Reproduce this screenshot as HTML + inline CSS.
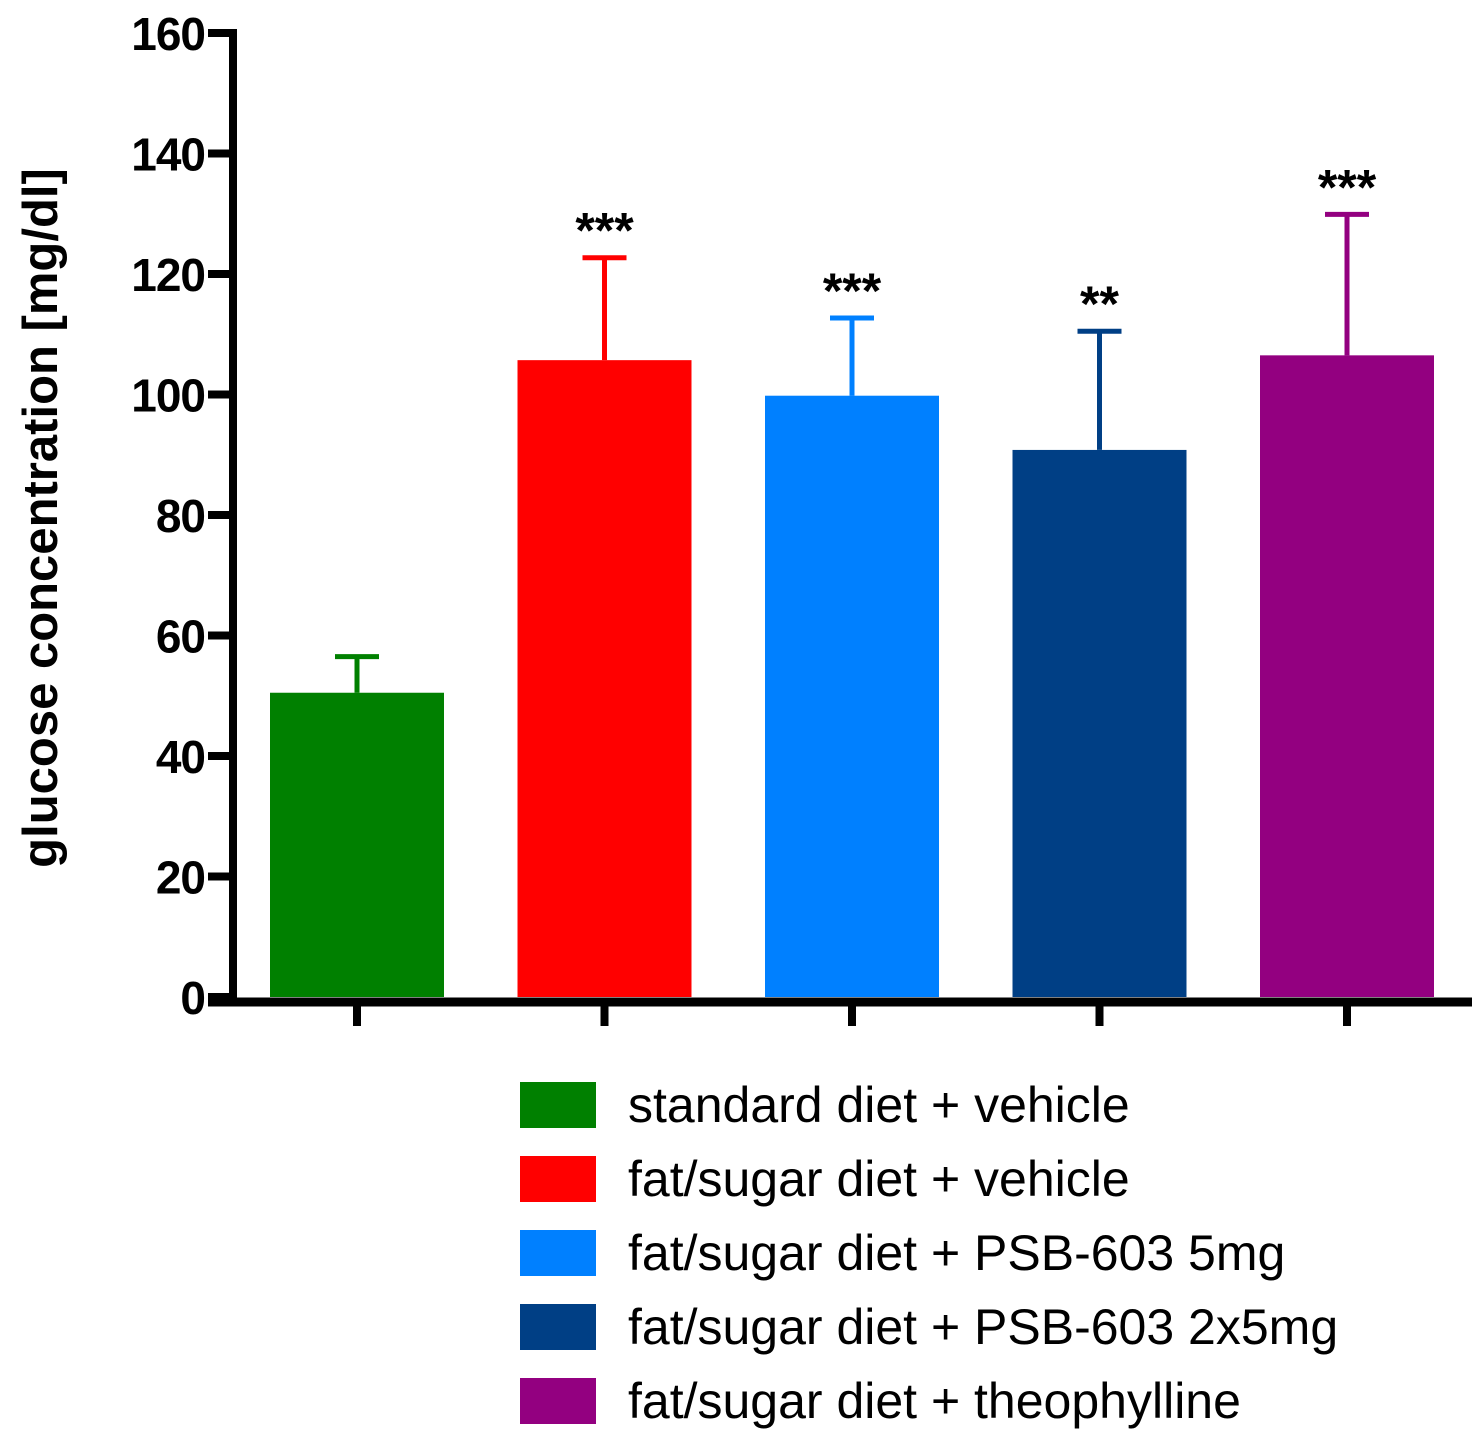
<!DOCTYPE html>
<html><head><meta charset="utf-8"><style>
body{margin:0;background:#fff;}
svg{display:block;font-family:"Liberation Sans",Arial,sans-serif;}
</style></head><body>
<svg id="chart" width="1484" height="1444" viewBox="0 0 1484 1444" xmlns="http://www.w3.org/2000/svg">
<text transform="translate(57,518) rotate(-90)" text-anchor="middle" font-size="49" font-weight="bold">glucose concentration [mg/dl]</text>
<g id="plot"></g>
<g id="legend"></g>
</svg>
<script>
const categories=["standard diet + vehicle","fat/sugar diet + vehicle","fat/sugar diet + PSB-603 5mg","fat/sugar diet + PSB-603 2x5mg","fat/sugar diet + theophylline"];
const means=[50.5,105.7,99.8,90.8,106.5];
const errors=[6.0,17.0,12.9,19.7,23.4];
const stars=["","***","***","**","***"];
const colors=["#008000","#ff0000","#0080ff","#003f85","#930080"];
const yTicks=[0,20,40,60,80,100,120,140,160];
const NS="http://www.w3.org/2000/svg";
const plot=document.getElementById('plot'),legend=document.getElementById('legend');
const y0=997,y160=33;
function y(v){return y0-(v/160)*(y0-y160);}
function xc(i){return 357+i*247.5;}
function mk(tag,attrs,parent){const e=document.createElementNS(NS,tag);for(const k in attrs)e.setAttribute(k,attrs[k]);parent.appendChild(e);return e;}
categories.forEach((c,i)=>{
  const b=mk('rect',{x:xc(i)-87,y:y(means[i]),width:174,height:y0-y(means[i]),fill:colors[i]},plot);
  
  
  const top=y(means[i]+errors[i]);
  const eb=mk('path',{d:`M${xc(i)},${y(means[i])}V${top}M${xc(i)-22},${top}H${xc(i)+22}`,stroke:colors[i],'stroke-width':5,fill:'none'},plot);
  
  
  if(stars[i]){
    const s=mk('text',{x:xc(i),y:top-10,'text-anchor':'middle','font-size':50,'font-weight':'bold'},plot);
    s.textContent=stars[i];
    
    
  }
  const t=mk('line',{x1:xc(i),x2:xc(i),y1:1002,y2:1026,stroke:'#000','stroke-width':8},plot);
  
  
  const sw=mk('rect',{x:520,y:1082+i*74,width:76,height:46,fill:colors[i]},legend);
  
  
  const lt=mk('text',{x:628,y:1122+i*74,'font-size':50},legend);
  lt.textContent=c;
  
  
});
const ya=mk('line',{x1:233,x2:233,y1:29,y2:1006,stroke:'#000','stroke-width':8},plot);


const xa=mk('line',{x1:208,x2:1472,y1:1002,y2:1002,stroke:'#000','stroke-width':9},plot);


yTicks.forEach(v=>{
  const tk=mk('line',{x1:208,x2:233,y1:y(v),y2:y(v),stroke:'#000','stroke-width':8},plot);
  
  
  const tl=mk('text',{x:205,y:y(v)+17,'text-anchor':'end','font-size':46,'font-weight':'bold','letter-spacing':'-1'},plot);
  tl.textContent=v;
  
  
});
</script>
</body></html>
